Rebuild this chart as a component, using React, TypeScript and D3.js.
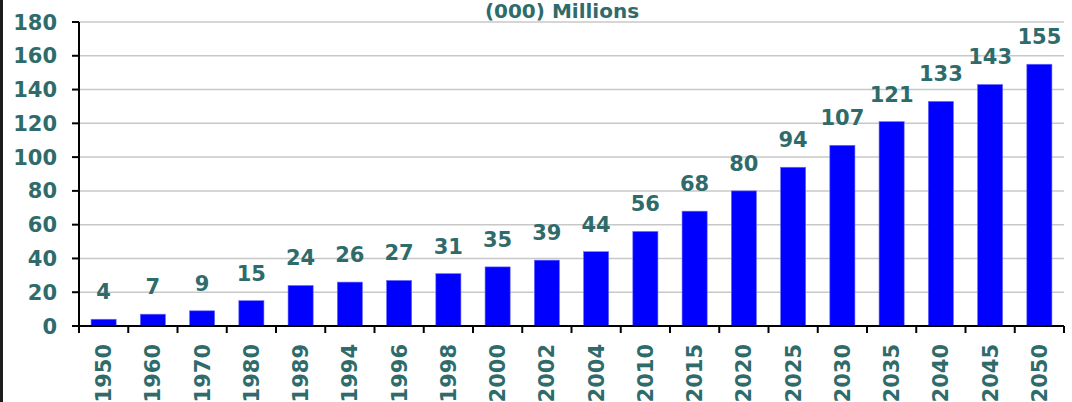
import { FC } from 'react';
import * as d3 from 'd3';

const years = [
  '1950', '1960', '1970', '1980', '1989', '1994', '1996', '1998', '2000', '2002',
  '2004', '2010', '2015', '2020', '2025', '2030', '2035', '2040', '2045', '2050',
];
const values = [4, 7, 9, 15, 24, 26, 27, 31, 35, 39, 44, 56, 68, 80, 94, 107, 121, 133, 143, 155];
const yTicks = [0, 20, 40, 60, 80, 100, 120, 140, 160, 180];
const title = '(000) Millions';

const W = 1072;
const H = 402;
const left = 79;
const right = 1064;
const top = 22;
const bottom = 326;
const textColor = '#2f6b6b';
const font = '"DejaVu Sans", sans-serif';

const App: FC = () => {
  const x = d3.scaleBand<string>().domain(years).range([left, right]).paddingInner(0.49).paddingOuter(0.245);
  const y = d3.scaleLinear().domain([0, 180]).range([bottom, top]);
  const step = (right - left) / years.length;

  return (
    <svg
      width={W}
      height={H}
      style={{ position: 'fixed', left: 0, top: 0, background: '#fff' }}
      fontFamily={font}
      fontWeight="bold"
    >
      <rect x={0} y={0} width={3} height={H} fill="#1c1c1c" />

      {/* gridlines */}
      {yTicks.slice(1).map((t) => (
        <line key={t} x1={left} x2={right} y1={y(t)} y2={y(t)} stroke="#c8c8c8" strokeWidth={1.5} />
      ))}

      {/* bars */}
      {values.map((v, i) => (
        <rect
          key={years[i]}
          x={x(years[i])}
          y={y(v)}
          width={x.bandwidth()}
          height={bottom - y(v)}
          fill="#0000ff"
          stroke="#6f6fff"
          strokeWidth={0.6}
        />
      ))}

      {/* value labels */}
      {values.map((v, i) => (
        <text
          key={'v' + years[i]}
          x={(x(years[i]) ?? 0) + x.bandwidth() / 2}
          y={y(v) - 20}
          textAnchor="middle"
          fontSize={21}
          fill={textColor}
        >
          {v}
        </text>
      ))}

      {/* y axis */}
      <line x1={left} x2={left} y1={top} y2={bottom + 7} stroke="#000" strokeWidth={2} />
      {yTicks.map((t) => (
        <g key={'y' + t}>
          <line x1={left - 7} x2={left} y1={y(t)} y2={y(t)} stroke="#000" strokeWidth={2} />
          <text x={57} y={y(t) + 7.5} textAnchor="end" fontSize={21} fill={textColor}>
            {t}
          </text>
        </g>
      ))}

      {/* x axis */}
      <line x1={left - 7} x2={right} y1={bottom} y2={bottom} stroke="#000" strokeWidth={2} />
      {d3.range(years.length + 1).map((i) => (
        <line
          key={'xt' + i}
          x1={left + i * step}
          x2={left + i * step}
          y1={bottom}
          y2={bottom + 7}
          stroke="#000"
          strokeWidth={2}
        />
      ))}
      {years.map((yr) => {
        const cx = (x(yr) ?? 0) + x.bandwidth() / 2;
        return (
          <text
            key={'xl' + yr}
            transform={`translate(${cx + 7.5},344) rotate(-90)`}
            textAnchor="end"
            fontSize={21}
            fill={textColor}
          >
            {yr}
          </text>
        );
      })}

      <text x={562} y={18} textAnchor="middle" fontSize={20} fill={textColor}>
        {title}
      </text>
    </svg>
  );
};

export default App;
